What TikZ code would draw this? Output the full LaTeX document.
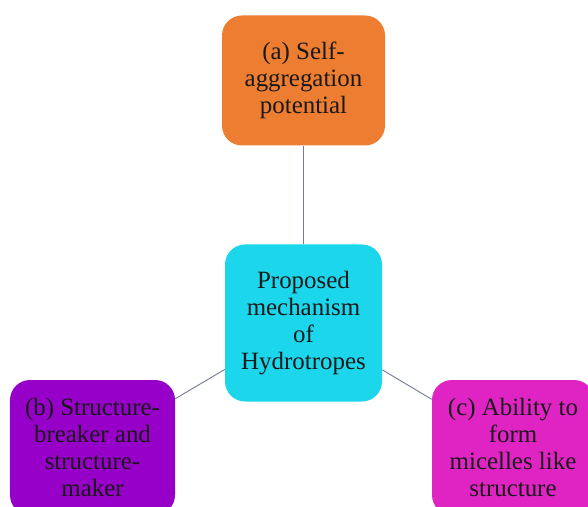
\documentclass[tikz,border=0pt]{standalone}
\usepackage{fontspec}
\setmainfont{Liberation Serif}
\usepackage{tikz}
\usetikzlibrary{positioning}

\definecolor{aggorange}{RGB}{237,125,49}
\definecolor{hubcyan}{RGB}{28,214,236}
\definecolor{breakpurple}{RGB}{150,0,200}
\definecolor{micmagenta}{RGB}{224,36,196}
\definecolor{linkgray}{RGB}{115,125,145}

\begin{document}
\begin{tikzpicture}[
  x=1bp,
  y=-1bp,
  card/.style={rounded corners=20bp,align=center,font=\fontsize{25}{27}\selectfont,
    text=black!90,inner sep=0pt},
  link/.style={draw=linkgray,line width=0.9bp}
]
  \clip (0,0) rectangle (588,507);
  \useasboundingbox (0,0) rectangle (588,507);
  \fill[white] (0,0) rectangle (588,507);

  \node[card,fill=hubcyan,minimum width=157bp,minimum height=157bp] (hub) at (303.5,323)
    {Proposed\\mechanism\\of\\Hydrotropes};
  \node[card,fill=aggorange,minimum width=163bp,minimum height=130bp] (selfagg) at (303.5,80.5)
    {(a) Self-\\aggregation\\potential};
  \node[card,fill=breakpurple,minimum width=165bp,minimum height=135bp] (breaker) at (92.5,447.5)
    {(b) Structure-\\breaker and\\structure-\\maker};
  \node[card,fill=micmagenta,minimum width=162bp,minimum height=135bp] (micelle) at (513,447.5)
    {(c) Ability to\\form\\micelles like\\structure};

  \draw[link] (selfagg) -- (hub);
  \draw[link] (hub) -- (breaker);
  \draw[link] (hub) -- (micelle);
\end{tikzpicture}
\end{document}
